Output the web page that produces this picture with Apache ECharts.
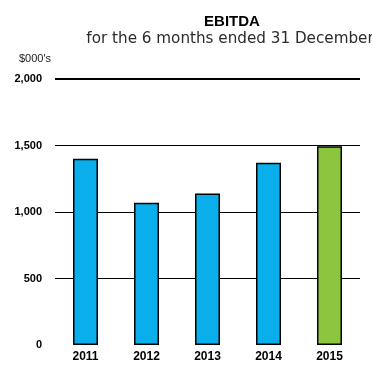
<!DOCTYPE html>
<html>
<head>
<meta charset="utf-8">
<script src="https://cdn.jsdelivr.net/npm/echarts@6/dist/echarts.min.js"></script>
<style>
  html, body { margin: 0; padding: 0; background: #ffffff; }
  #chart { width: 372px; height: 367px; }
</style>
</head>
<body>
<div id="chart"></div>
<script>
// EBITDA by year, $000's
const years = ['2011', '2012', '2013', '2014', '2015'];
const ebitda = [1400, 1070, 1140, 1370, 1495];
const barColors = ['#0aaeea', '#0aaeea', '#0aaeea', '#0aaeea', '#8cc63e'];
const topLine = 2000;

const chart = echarts.init(document.getElementById('chart'));
chart.setOption({
  animation: false,
  backgroundColor: '#ffffff',
  textStyle: { fontFamily: 'Liberation Sans, Arial, sans-serif' },
  title: [
    {
      text: 'EBITDA',
      left: 227, top: 9, textAlign: 'center',
      textStyle: { fontSize: 15, fontWeight: 'bold', color: '#000' }
    },
    {
      text: 'for the 6 months ended 31 December',
      left: 225, top: 27, textAlign: 'center',
      textStyle: { fontSize: 15.2, fontWeight: 'normal', color: '#2a2a2a', fontFamily: 'DejaVu Sans' }
    },
    {
      text: "$000's",
      left: 14, top: 48,
      textStyle: { fontSize: 11, fontWeight: 'normal', color: '#222' }
    }
  ],
  grid: { left: 55, right: 12, top: 79, bottom: 22 },
  xAxis: {
    type: 'category',
    data: years,
    axisLine: { show: false },
    axisTick: { show: false },
    axisLabel: { fontSize: 12, fontWeight: 'bold', color: '#000', margin: 6 }
  },
  yAxis: {
    type: 'value',
    min: 0, max: 2000, interval: 500,
    axisLine: { show: false },
    axisTick: { show: false },
    axisLabel: {
      fontSize: 11, fontWeight: 'bold', color: '#000', margin: 13,
      formatter: v => v.toLocaleString('en-US')
    },
    splitLine: {
      showMinLine: false,
      lineStyle: { color: '#000', width: 1.2 }
    }
  },
  series: [{
    type: 'bar',
    barWidth: 25,
    data: ebitda.map((v, i) => ({
      value: v,
      itemStyle: { color: barColors[i] }
    })),
    itemStyle: { borderColor: '#000', borderWidth: 1.5 },
    markLine: {
      silent: true,
      symbol: 'none',
      label: { show: false },
      lineStyle: { color: '#000', width: 2, type: 'solid' },
      data: [{ yAxis: topLine }]
    }
  }]
});
</script>
</body>
</html>
